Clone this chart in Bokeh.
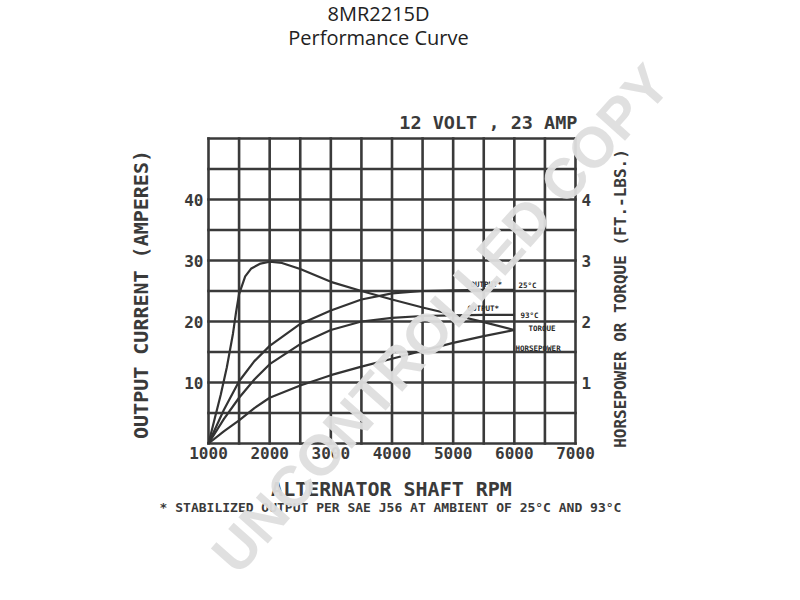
import math
from bokeh.plotting import figure
from bokeh.models import Range1d, LinearAxis, FixedTicker, Label
from bokeh.embed import file_html
from bokeh.resources import INLINE

# ---------------- data ----------------
rpm = [1000, 1250, 1500, 1750, 2000, 2500, 3000, 3500, 4000, 4500, 5000, 5500, 6000]
output_25c = [0, 5.5, 10.2, 13.5, 16.0, 19.6, 21.8, 23.6, 24.6, 25.0, 25.1, 25.2, 25.2]
output_93c = [0, 4.0, 7.5, 10.5, 13.0, 16.3, 18.6, 20.0, 20.6, 20.9, 21.0, 21.1, 21.1]
horsepower = [0, 0.20, 0.38, 0.58, 0.75, 0.95, 1.12, 1.26, 1.39, 1.52, 1.65, 1.76, 1.86]
torque_rpm = [1000, 1100, 1200, 1300, 1400, 1450, 1500, 1600, 1700, 1850, 2000, 2200,
              2500, 3000, 3500, 4000, 4500, 5000, 5500, 6000]
torque = [0, 0.40, 0.80, 1.25, 1.80, 2.15, 2.45, 2.74, 2.87, 2.95, 2.98, 2.96,
          2.86, 2.65, 2.50, 2.36, 2.23, 2.11, 1.99, 1.86]

x_ticks = [1000, 2000, 3000, 4000, 5000, 6000, 7000]
y_ticks = [10, 20, 30, 40]
right_ticks = [1, 2, 3, 4]
grid_x = list(range(1000, 7001, 500))
grid_y = list(range(0, 51, 5))
curve_labels = ["OUTPUT*", "25°C", "OUTPUT*", "93°C", "TORQUE", "HORSEPOWER"]

title_1 = "8MR2215D"
title_2 = "Performance Curve"
rating = "12 VOLT , 23 AMP"
x_title = "ALTERNATOR SHAFT RPM"
y_title = "OUTPUT CURRENT (AMPERES)"
y2_title = "HORSEPOWER OR TORQUE (FT.-LBS.)"
footnote = "* STABILIZED OUTPUT PER SAE J56 AT AMBIENT OF 25°C AND 93°C"
watermark = "UNCONTROLLED COPY"

# ---------------- layout ----------------
W, H = 792, 592
GL, GR, GT, GB = 208, 575, 138, 443     # grid box in canvas px
X0, X1, Y0, Y1 = 1000, 7000, 0, 50
xs = (X1 - X0) / (GR - GL)
ys = (Y1 - Y0) / (GB - GT)
x_start, x_end = X0 - GL * xs, X0 + (W - GL) * xs
y_start, y_end = Y0 - (H - GB) * ys, Y1 + GT * ys

def dx(px):
    return X0 + (px - GL) * xs

def dy(py):
    return Y0 + (GB - py) * ys

INK = "#3a3a3a"
MONO = "DejaVu Sans Mono"

p = figure(width=W, height=H, output_backend="svg", toolbar_location=None, title=None,
           x_range=Range1d(x_start, x_end), y_range=Range1d(y_start, y_end),
           min_border=0, min_border_left=0, min_border_right=0,
           min_border_top=0, min_border_bottom=0)
p.extra_y_ranges = {"right": Range1d(y_start / 10, y_end / 10)}
p.background_fill_color = "white"
p.border_fill_color = "white"
p.outline_line_color = None
p.xgrid.visible = False
p.ygrid.visible = False

p.xaxis.ticker = FixedTicker(ticks=x_ticks)
p.yaxis.ticker = FixedTicker(ticks=y_ticks)
p.xaxis.fixed_location = Y0
p.yaxis.fixed_location = X0
raxis = LinearAxis(y_range_name="right", ticker=FixedTicker(ticks=right_ticks),
                   fixed_location=X1)
p.add_layout(raxis, "right")

for ax in [p.xaxis[0], p.yaxis[0], raxis]:
    ax.axis_line_color = None
    ax.major_tick_line_color = None
    ax.minor_tick_line_color = None
    ax.major_tick_out = 0
    ax.major_tick_in = 0
    ax.minor_tick_out = 0
    ax.minor_tick_in = 0
    ax.major_label_text_font = MONO
    ax.major_label_text_font_style = "bold"
    ax.major_label_text_font_size = "16px"
    ax.major_label_text_color = INK
p.xaxis.major_label_standoff = 3
p.yaxis[0].major_label_standoff = 5
raxis.major_label_standoff = 6

# grid drawn from the grid tick lists
p.segment(x0=grid_x, y0=[Y0] * len(grid_x), x1=grid_x, y1=[Y1] * len(grid_x),
          line_color=INK, line_width=2.6, line_cap="square")
p.segment(x0=[X0] * len(grid_y), y0=grid_y, x1=[X1] * len(grid_y), y1=grid_y,
          line_color=INK, line_width=2.6, line_cap="square")

LC = "#333333"
LW = 2.2
p.line(rpm, output_25c, line_color=LC, line_width=LW)
p.line(rpm, output_93c, line_color=LC, line_width=LW)
p.line(rpm, horsepower, line_color=LC, line_width=LW, y_range_name="right")
p.line(torque_rpm, torque, line_color=LC, line_width=LW, y_range_name="right")

def add_text(t, px, py, size, font=MONO, style="bold", align="center",
             baseline="middle", angle=0.0, color=INK, alpha=1.0):
    p.add_layout(Label(x=dx(px), y=dy(py), text=t, text_font=font, text_font_style=style,
                       text_font_size=size, text_color=color, text_alpha=alpha,
                       text_align=align, text_baseline=baseline, angle=angle))

# small curve labels
label_pos = [(470, 284), (518, 285), (467, 308), (520, 315), (528, 328), (515, 348)]
for t, (px, py) in zip(curve_labels, label_pos):
    add_text(t, px, py, "7.5px", align="left", color="#2a2a2a")

add_text(title_1, 378, 13, "20px", font="Open Sans", style="normal", color="#222222")
add_text(title_2, 378, 37, "20px", font="Open Sans", style="normal", color="#222222")
add_text(rating, 577, 122, "18.5px", align="right")
add_text(x_title, 391, 488, "20px")
add_text(footnote, 390, 507, "13px")
add_text(y_title, 140, 294, "20px", angle=math.pi / 2)
add_text(y2_title, 620, 298, "16px", angle=math.pi / 2)

# watermark
add_text(watermark, 440, 318, "57px", font="Liberation Sans", angle=0.845,
         color="#dedede", alpha=0.95)

open("out.html", "w").write(file_html(p, INLINE))
